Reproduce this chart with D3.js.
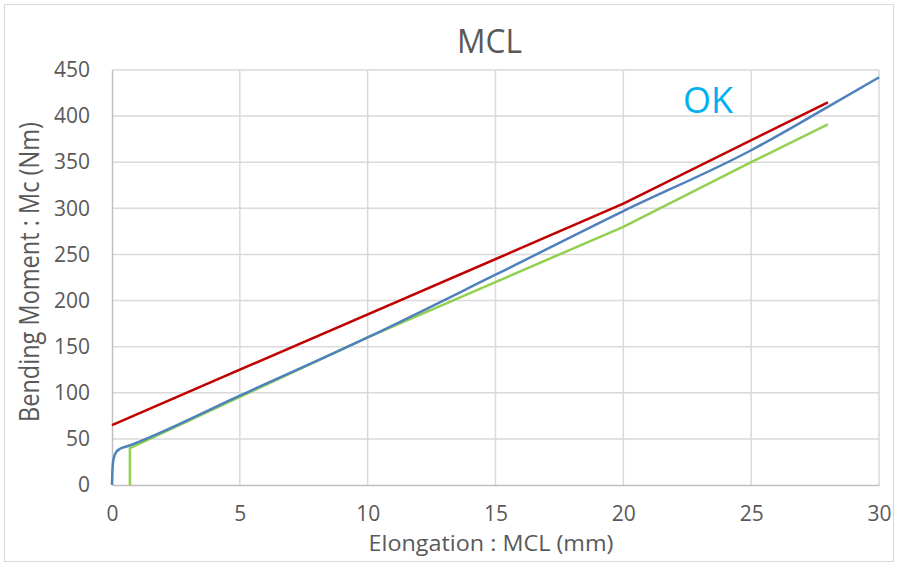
<!DOCTYPE html>
<html><head><meta charset="utf-8">
<script src="https://cdn.jsdelivr.net/npm/d3@7"></script>
<style>body{margin:0;background:#fff}svg{display:block}text{font-family:"Open Sans",sans-serif}</style>
</head><body><svg id="c" width="899" height="564"></svg>
<script>
const xTicks=[0,5,10,15,20,25,30];
const yTicks=[0,50,100,150,200,250,300,350,400,450];
const redX=[0,20,28];
const redY=[65,305,415];
const blueX=[0,0.02,0.06,0.15,0.3,0.6,5,10,15,20,25,28,30];
const blueY=[0,18,28,35,39,42,97,160,228,297,363,410,442];
const greenX=[0.7,0.7,10,15,20,25,28];
const greenY=[0,40,160,220,280,350,391];
const seriesColors=["#c00000","#4f81bd","#92d050"];

const svg=d3.select("#c");
svg.append("rect").attr("x",4.5).attr("y",4.5).attr("width",889).attr("height",557).attr("fill","#fff").attr("stroke","#d9d9d9");
const x=d3.scaleLinear().domain([0,30]).range([112,879]);
const y=d3.scaleLinear().domain([0,450]).range([485,70]);
// grid
svg.append("g").selectAll("line").data(yTicks.slice(1)).join("line")
 .attr("x1",x(0)).attr("x2",x(30)).attr("y1",d=>y(d)).attr("y2",d=>y(d)).attr("stroke","#d9d9d9").attr("stroke-width",1.5);
svg.append("g").selectAll("line").data(xTicks.slice(1)).join("line")
 .attr("y1",y(0)).attr("y2",y(450)).attr("x1",d=>x(d)).attr("x2",d=>x(d)).attr("stroke","#d9d9d9").attr("stroke-width",1.5);
// axes
const xa=svg.append("g").attr("transform",`translate(0,${y(0)})`).call(d3.axisBottom(x).tickValues(xTicks).tickSize(0).tickPadding(21));
const ya=svg.append("g").attr("transform",`translate(${x(0)},0)`).call(d3.axisLeft(y).tickValues(yTicks).tickSize(0).tickPadding(22));
[xa,ya].forEach(a=>{a.select(".domain").attr("stroke","#bfbfbf").attr("stroke-width",1.5);a.selectAll("text").attr("fill","#595959").style("font-size","21px").style("font-family","'Open Sans',sans-serif");});
// lines
const line=d3.line().x(d=>x(d[0])).y(d=>y(d[1]));
const blueLine=d3.line().x(d=>x(d[0])).y(d=>y(d[1])).curve(d3.curveMonotoneX);
const series=[[redX,redY,line],[blueX,blueY,blueLine],[greenX,greenY,line]];
[2,1,0].forEach(i=>{
 const [xs,ys,gen]=series[i];
 svg.append("path").datum(xs.map((v,j)=>[v,ys[j]])).attr("d",gen).attr("fill","none").attr("stroke",seriesColors[i]).attr("stroke-width",2.5).attr("stroke-linejoin","round");
});
// texts
svg.append("text").attr("x",489.5).attr("y",53).attr("text-anchor","middle").attr("fill","#595959").style("font-size","33px").attr("textLength",65).attr("lengthAdjust","spacingAndGlyphs").text("MCL");
svg.append("text").attr("x",491).attr("y",551).attr("text-anchor","middle").attr("fill","#595959").style("font-size","22px").attr("textLength",245).attr("lengthAdjust","spacingAndGlyphs").text("Elongation : MCL (mm)");
svg.append("text").attr("transform","translate(39,272) rotate(-90)").attr("text-anchor","middle").attr("fill","#595959").style("font-size","26.5px").attr("textLength",300).attr("lengthAdjust","spacingAndGlyphs").text("Bending Moment : Mc (Nm)");
svg.append("text").attr("x",708).attr("y",113).attr("text-anchor","middle").attr("fill","#00b0f0").style("font-size","36px").text("OK");
</script></body></html>
